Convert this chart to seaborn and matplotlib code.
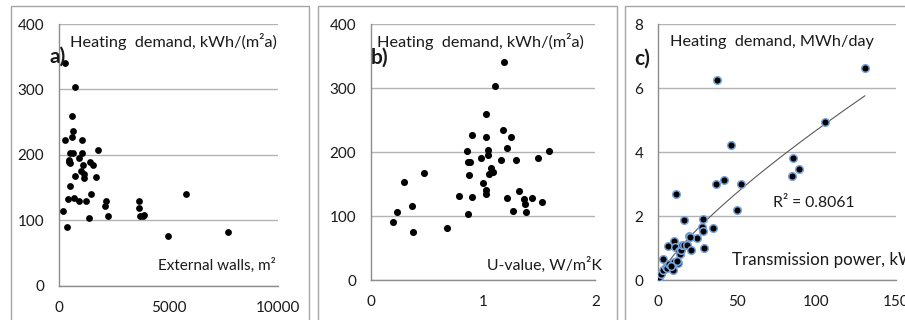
import matplotlib
matplotlib.use("Agg")
import matplotlib.pyplot as plt
from matplotlib.patches import Rectangle
import seaborn as sns
import pandas as pd
import numpy as np

# ---------------- data ----------------
# Panel a: external wall area (m2) vs heating demand kWh/(m2a)
walls_area = [250, 730, 570, 630, 280, 560, 1050, 1770, 490, 610, 1020, 430, 460, 500,
              900, 1070, 1400, 1540, 990, 700, 1130, 1140, 1690, 500, 1460, 410, 670, 900,
              1220, 2120, 2080, 2240, 150, 350, 1340, 3650, 3630, 3700, 3810, 3880, 5770,
              4980, 7720]
demand_a = [340, 303, 260, 236, 222, 227, 222, 207, 203, 203, 203, 192, 189, 187,
            195, 184, 189, 185, 175, 168, 170, 165, 166, 152, 140, 132, 134, 130,
            129, 130, 122, 107, 114, 90, 104, 130, 119, 107, 107, 108, 140,
            75, 82]

# Panel b: U-value (W/m2K) vs heating demand kWh/(m2a)
u_value = [0.196, 0.229, 0.297, 0.366, 0.377, 0.473, 0.678, 0.785, 0.856, 0.868, 0.862,
           0.883, 0.877, 0.897, 0.903, 0.978, 0.996, 1.022, 1.022, 1.022, 1.022, 1.04,
           1.045, 1.048, 1.07, 1.09, 1.103, 1.19, 1.177, 1.16, 1.21, 1.215, 1.245, 1.27,
           1.29, 1.316, 1.364, 1.376, 1.385, 1.435, 1.486, 1.524, 1.59]
demand_b = [90, 107, 153, 115, 75, 168, 81, 131, 202, 104, 184,
            184, 165, 227, 130, 191, 152, 260, 223, 141, 134, 204,
            196, 166, 175, 169, 303, 341, 235, 188, 207, 129, 223, 108,
            187, 140, 127, 119, 107, 129, 191, 122, 202]

# Panel c: transmission power (kW) vs heating demand MWh/day
trans_power = [0.7, 1.9, 2.8, 3.2, 4.7, 5.5, 7.0, 6.3, 9.5, 9.9, 9.8, 10.5, 11.2, 12.6,
               13.0, 13.5, 14.5, 15.2, 16.5, 16.5, 18.2, 19.4, 20.4, 24.3, 27.5, 28.0,
               28.3, 28.6, 34.7, 36.3, 37.1, 41.6, 46.0, 49.8, 52.3, 84.5, 85.0, 89.0,
               105.3, 130.6, 20.0, 12.0, 8.0]
demand_c = [0.1, 0.2, 0.3, 0.65, 0.42, 0.38, 0.5, 1.07, 0.32, 0.55, 1.22, 1.02, 2.68, 0.52,
            0.9, 0.8, 0.95, 1.1, 1.88, 1.1, 1.1, 1.36, 0.94, 1.32, 1.67, 1.92,
            1.53, 1.0, 1.64, 3.0, 6.24, 3.13, 4.22, 2.19, 3.0, 3.26, 3.82, 3.48,
            4.95, 6.63, 1.35, 0.6, 0.45]

r2_label = "R² = 0.8061"

# ---------------- style ----------------
sns.set_style("white")
plt.rcParams['font.family'] = ['Lato', 'DejaVu Sans']

W, H = 905, 320
fig = plt.figure(figsize=(W / 100, H / 100), dpi=100)

def frac_rect(x0, x1, y_top, y_bot):
    return [x0 / W, 1 - y_bot / H, (x1 - x0) / W, (y_bot - y_top) / H]

GRID = '#b3b3b3'
AXC = '#8c8c8c'
TXT = '#1a1a1a'

# panel borders
for (bx0, bx1) in [(10.5, 308.5), (317.5, 616.5), (624.5, 960)]:
    fig.add_artist(Rectangle((bx0 / W, -0.1), (bx1 - bx0) / W, (1 - 5.5 / H) + 0.1,
                             transform=fig.transFigure, fill=False,
                             edgecolor='#a6a6a6', lw=1.0))

ax_a = fig.add_axes(frac_rect(59.3, 278.3, 24, 285.5))
ax_b = fig.add_axes(frac_rect(371, 595.3, 24.3, 280))
ax_c = fig.add_axes(frac_rect(658.3, 895.7, 24, 280))

def style(ax, xlim, xticks, ylim, yticks):
    ax.set_xlim(*xlim)
    ax.set_ylim(*ylim)
    ax.set_xticks(xticks)
    ax.set_yticks(yticks)
    ax.set_facecolor('none')
    ax.grid(axis='y', color=GRID, lw=1.0)
    ax.grid(axis='x', visible=False)
    ax.set_axisbelow(True)
    for s in ['top', 'right']:
        ax.spines[s].set_visible(False)
    for s in ['left', 'bottom']:
        ax.spines[s].set_color(AXC)
        ax.spines[s].set_linewidth(1.0)
    ax.tick_params(axis='both', direction='out', length=4.3, width=1.0, color=AXC,
                   labelsize=11, labelcolor=TXT, pad=6.5)
    ax.set_xlabel('')
    ax.set_ylabel('')

df_a = pd.DataFrame({'x': walls_area, 'y': demand_a})
df_b = pd.DataFrame({'x': u_value, 'y': demand_b})
df_c = pd.DataFrame({'x': trans_power, 'y': demand_c})

sns.scatterplot(data=df_a, x='x', y='y', ax=ax_a, color='black', s=24, linewidth=0, zorder=3)
sns.scatterplot(data=df_b, x='x', y='y', ax=ax_b, color='black', s=26, linewidth=0, zorder=3)
sns.scatterplot(data=df_c, x='x', y='y', ax=ax_c, color='black', s=30,
                edgecolor='#7aa6dc', linewidth=1.1, zorder=3)

# power-law trendline (fit in log space), drawn over the data range
b_exp, ln_a = np.polyfit(np.log(df_c['x']), np.log(df_c['y']), 1)
xs = np.linspace(df_c['x'].min(), df_c['x'].max(), 200)
sns.lineplot(x=xs, y=np.exp(ln_a) * xs ** b_exp, ax=ax_c, color='#5a5a5a', lw=0.8, zorder=2)

style(ax_a, (0, 10000), [0, 5000, 10000], (0, 400), [0, 100, 200, 300, 400])
style(ax_b, (0, 2), [0, 1, 2], (0, 400), [0, 100, 200, 300, 400])
style(ax_c, (0, 150), [0, 50, 100, 150], (0, 8), [0, 2, 4, 6, 8])

def ftext(x, y, s, **kw):
    fig.text(x / W, 1 - y / H, s, va='center', color=TXT, **kw)

HFS = 11.7
ftext(70, 42, 'Heating  demand, kWh/(m²a)', fontsize=HFS)
ftext(49, 57, 'a)', fontsize=15, fontweight='bold')
ftext(276, 265, 'External walls, m²', fontsize=11.0, ha='right')

ftext(377, 42, 'Heating  demand, kWh/(m²a)', fontsize=HFS)
ftext(371, 58, 'b)', fontsize=15, fontweight='bold')
ftext(602, 265, 'U-value, W/m²K', fontsize=11.4, ha='right')

ftext(670, 42, 'Heating  demand, MWh/day', fontsize=HFS)
ftext(634, 59, 'c)', fontsize=15, fontweight='bold')
ftext(773, 203, r2_label, fontsize=11.3)
ftext(732, 260, 'Transmission power, kW', fontsize=12.2)

fig.savefig('out.png', dpi=100)
